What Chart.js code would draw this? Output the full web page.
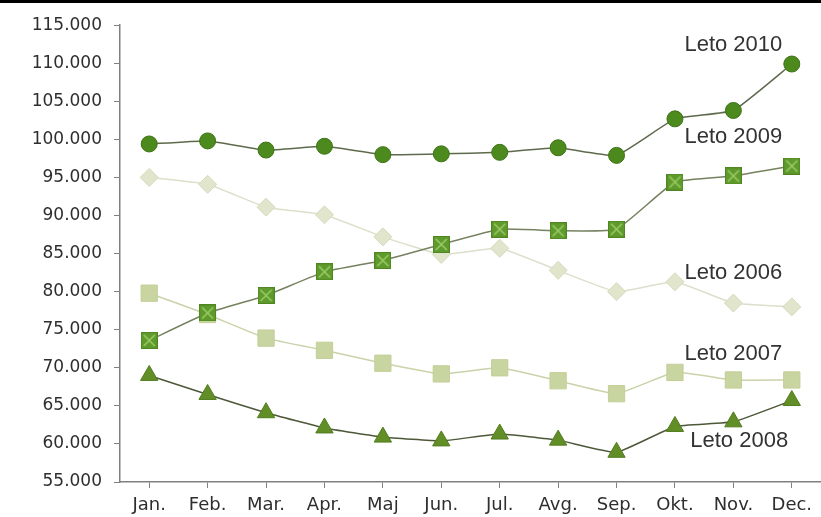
<!DOCTYPE html>
<html>
<head>
<meta charset="utf-8">
<script src="https://cdn.jsdelivr.net/npm/chart.js@4.4.1/dist/chart.umd.min.js"></script>
<style>
  html, body { margin: 0; padding: 0; background: #fff; }
  body { border-top: 3px solid #000; width: 821px; height: 514px; overflow: hidden; }
  #wrap { width: 821px; height: 514px; }
</style>
</head>
<body>
<div id="wrap"><canvas id="chart" width="821" height="514"></canvas></div>
<script>
    // Podatki (meseci in vrednosti po letih)
    const months = ['Jan.', 'Feb.', 'Mar.', 'Apr.', 'Maj', 'Jun.', 'Jul.', 'Avg.', 'Sep.', 'Okt.', 'Nov.', 'Dec.'];
    const leto2010 = [99400, 99800, 98600, 99100, 98000, 98100, 98300, 98900, 97900, 102700, 103800, 109900];
    const leto2009 = [73600, 77200, 79500, 82600, 84100, 86200, 88200, 88000, 88200, 94400, 95200, 96500];
    const leto2008 = [69000, 66500, 64100, 62100, 60900, 60400, 61300, 60500, 58900, 62300, 62900, 65700];
    const leto2007 = [79800, 77000, 73900, 72300, 70600, 69200, 70000, 68300, 66600, 69400, 68400, 68400];
    const leto2006 = [95000, 94100, 91100, 90100, 87200, 84900, 85700, 82800, 80000, 81300, 78500, 78000];
    const yTicks = { min: 55000, max: 115000, step: 5000 };

    // Oznake serij (ime, mesto na osi x, vrednost na osi y)
    const seriesNames = ['Leto 2010', 'Leto 2009', 'Leto 2006', 'Leto 2007', 'Leto 2008'];
    const nameAtX = [10, 10, 10, 10, 10.1];
    const nameAtY = [112400, 100300, 82400, 71800, 60400];

    // Kvadrat s križcem za leto 2009
    function crossSquare(size, fill, edge, cross) {
        const c = document.createElement('canvas');
        c.width = size;
        c.height = size;
        const g = c.getContext('2d');
        g.fillStyle = fill;
        g.fillRect(0, 0, size, size);
        g.strokeStyle = edge;
        g.lineWidth = 1;
        g.strokeRect(0.5, 0.5, size - 1, size - 1);
        g.strokeStyle = cross;
        g.lineWidth = 1.5;
        g.beginPath();
        g.moveTo(3, 3); g.lineTo(size - 3, size - 3);
        g.moveTo(size - 3, 3); g.lineTo(3, size - 3);
        g.stroke();
        return c;
    }

    const seriesLabels = {
        id: 'seriesLabels',
        afterDatasetsDraw(chart) {
            const ctx = chart.ctx;
            const xs = chart.scales.x;
            const ys = chart.scales.y;
            ctx.save();
            ctx.font = '22px "Liberation Sans", Arial, sans-serif';
            ctx.fillStyle = '#333333';
            ctx.textAlign = 'center';
            ctx.textBaseline = 'middle';
            seriesNames.forEach(function(name, i) {
                ctx.fillText(name, xs.getPixelForValue(nameAtX[i]), ys.getPixelForValue(nameAtY[i]));
            });
            ctx.restore();
        }
    };

    const common = { borderWidth: 1.5, tension: 0.12, pointBorderWidth: 1 };

    new Chart(document.getElementById('chart'), {
        type: 'line',
        data: {
            labels: months,
            datasets: [
                Object.assign({
                    label: 'Leto 2010', data: leto2010,
                    borderColor: '#5d6a4c', pointStyle: 'circle', pointRadius: 8,
                    pointBackgroundColor: '#4c8a1d', pointBorderColor: '#3e7316'
                }, common),
                Object.assign({
                    label: 'Leto 2008', data: leto2008,
                    borderColor: '#4d5839', pointStyle: 'triangle', pointRadius: 10,
                    pointBackgroundColor: '#618e26', pointBorderColor: '#527c1e'
                }, common),
                Object.assign({
                    label: 'Leto 2009', data: leto2009,
                    borderColor: '#76825f',
                    pointStyle: crossSquare(17, '#5f9b2c', '#4f8622', '#9ccb67'), pointRadius: 9
                }, common),
                Object.assign({
                    label: 'Leto 2007', data: leto2007,
                    borderColor: '#c9d3a9', pointStyle: 'rect', pointRadius: 11.5,
                    pointBackgroundColor: '#c9d5a0', pointBorderColor: '#c3cf98'
                }, common),
                Object.assign({
                    label: 'Leto 2006', data: leto2006,
                    borderColor: '#dbe0cb', pointStyle: 'rectRot', pointRadius: 9,
                    pointBackgroundColor: '#e0e5cc', pointBorderColor: '#d3dabc'
                }, common)
            ]
        },
        options: {
            responsive: false,
            animation: false,
            layout: { autoPadding: false, padding: { top: 22, right: 0, bottom: 0, left: 0 } },
            plugins: {
                legend: { display: false },
                tooltip: { enabled: false }
            },
            scales: {
                x: {
                    offset: true,
                    grid: { drawOnChartArea: false, drawTicks: true, tickLength: 6, color: '#808080' },
                    border: { color: '#808080', width: 1.5 },
                    ticks: {
                        color: '#2e2e2e', padding: 7, maxRotation: 0, autoSkip: false,
                        font: { family: '"DejaVu Sans", sans-serif', size: 18 }
                    },
                    afterFit: function(scale) { scale.height = 35; }
                },
                y: {
                    min: yTicks.min,
                    max: yTicks.max,
                    grid: { drawOnChartArea: false, drawTicks: true, tickLength: 6, color: '#808080' },
                    border: { color: '#808080', width: 1.5 },
                    ticks: {
                        stepSize: yTicks.step, color: '#2e2e2e', padding: 12,
                        font: { family: '"DejaVu Sans", sans-serif', size: 17 },
                        callback: function(value) { return (value / 1000).toFixed(0) + '.000'; }
                    },
                    afterFit: function(scale) { scale.width = 120; }
                }
            }
        },
        plugins: [seriesLabels]
    });
</script>
</body>
</html>
